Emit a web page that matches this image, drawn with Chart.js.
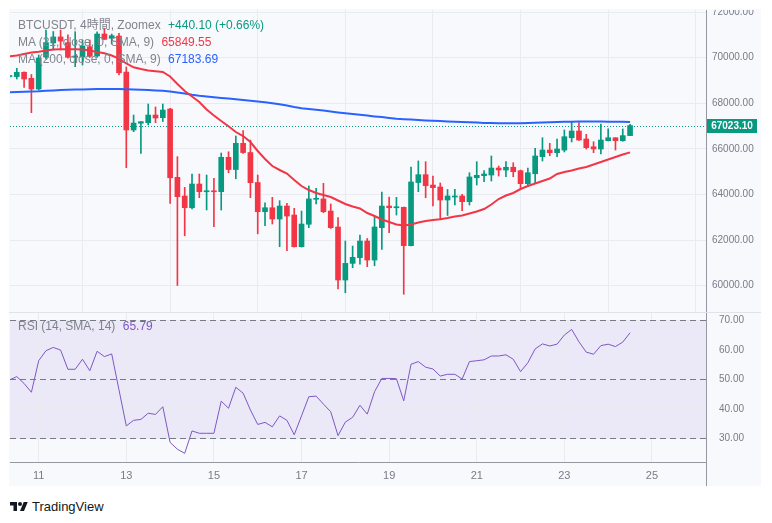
<!DOCTYPE html>
<html lang="ja">
<head>
<meta charset="utf-8">
<title>BTCUSDT 4時間</title>
<script src="https://cdn.jsdelivr.net/npm/chart.js@4.4.1/dist/chart.umd.min.js"></script>
<style>
    body { margin: 0; background: #ffffff; font-family: "Liberation Sans", Arial, "Noto Sans CJK JP", sans-serif; }
    #frame { position: absolute; left: 9px; top: 9px; width: 752px; height: 477px; background: #f8f9fd; }
    canvas { position: absolute; }
    #priceChart { left: 10px; top: 10px; }
    #rsiChart { left: 10px; top: 313px; }
    .line { position: absolute; }
    .legend { position: absolute; left: 18px; font-size: 12px; line-height: 17px; color: #80838c; white-space: nowrap; }
    .legend span { margin-left: 4px; }
    #logo { position: absolute; left: 10px; top: 499px; display: flex; align-items: center; color: #131722; font-size: 13px; }
    #logo svg { margin-right: 4px; }
</style>
</head>
<body>
<div id="frame"></div>
<canvas id="priceChart" width="751" height="302"></canvas>
<canvas id="rsiChart" width="751" height="173"></canvas>
<!-- separador entre paneles y final del eje de precios -->
<div class="line" style="left:9px; top:312px; width:752px; height:1px; background:#e0e3eb;"></div>
<div class="line" style="left:706px; top:462px; width:1px; height:24px; background:#9598a1;"></div>

<div class="legend" style="top:17px;">
    <div>BTCUSDT, 4時間, Zoomex <span id="chg" style="color:#089981"></span></div>
    <div>MA (21, close, 0, SMA, 9) <span id="ma21v" style="color:#f23645"></span></div>
    <div>MA (200, close, 0, SMA, 9) <span id="ma200v" style="color:#2962ff"></span></div>
</div>
<div class="legend" style="top:318px;">RSI (14, SMA, 14) <span id="rsiv" style="color:#7e57c2"></span></div>

<div id="logo">
    <svg width="18" height="14" viewBox="0 0 36 28"><path fill="#131722" d="M14 22H7V11H0V4h14v18zM28 22h-8l7.5-18h8L28 22z"/><circle fill="#131722" cx="20" cy="8" r="4"/></svg>
    <span>TradingView</span>
</div>

<script>
// Velas de 4 horas (índice 4 = día 11 a las 00:00)
const openP = [69175, 69170, 69360, 69095, 68625, 70030, 70645, 70910, 70660, 70020,
    70030, 70480, 70075, 71040, 70850, 70950, 69370, 66830, 67125, 67150,
    67485, 67370, 67750, 64755, 63935, 63420, 64460, 64120, 64145, 64125,
    65630, 65095, 66245, 65840, 64525, 63245, 63420, 62925, 63495, 63100,
    61710, 62695, 63790, 63805, 63275, 62575, 60250, 60980, 61230, 61960,
    61125, 62545, 63495, 63420, 63440, 61755, 64525, 64870, 64415, 64330,
    63760, 63890, 63935, 63685, 64735, 64825, 64855, 65160, 65075, 65195,
    65045, 64475, 64910, 65660, 65950, 65835, 65950, 66490, 66785, 66435,
    66095, 65995, 66360, 66490, 66360, 66583];
const highP = [69220, 69535, 69375, 69265, 70120, 71215, 71150, 71215, 71000, 71140,
    70775, 70775, 71140, 71290, 71040, 71070, 69590, 67485, 67195, 67970,
    67840, 67970, 67780, 65660, 64315, 64900, 64900, 64855, 64710, 65820,
    65875, 66565, 66805, 66390, 64855, 63640, 63875, 63730, 63615, 63395,
    63275, 64375, 64270, 64490, 63585, 62990, 61960, 61740, 62225, 62070,
    63025, 64110, 63890, 63875, 63450, 65205, 65470, 65440, 64810, 64505,
    64220, 64230, 64010, 64955, 65440, 65045, 65690, 65250, 65440, 65395,
    65075, 65160, 66025, 66490, 66245, 66435, 66830, 67195, 67150, 66640,
    66315, 67090, 66875, 66490, 66875, 67080];
const lowP = [69130, 69065, 68695, 67590, 68585, 69945, 70340, 70340, 69975, 69605,
    69680, 70020, 70020, 70800, 70600, 69240, 65175, 66755, 65800, 67050,
    67150, 67200, 63605, 60010, 62190, 63365, 63860, 63320, 62590, 63320,
    64955, 64690, 65805, 63860, 62275, 62630, 62705, 61710, 61535, 61695,
    61695, 62545, 63585, 63200, 62510, 59855, 59695, 60790, 60950, 60835,
    60875, 61595, 62325, 63100, 59625, 61740, 64125, 63860, 63495, 62910,
    63080, 63540, 63290, 63540, 64415, 64560, 64590, 64810, 64780, 64780,
    64230, 64340, 64520, 65470, 65700, 65660, 65865, 66305, 66370, 65995,
    65835, 65775, 66345, 65950, 66335, 66580];
const closeP = [69200, 69360, 69065, 68625, 69985, 70665, 70910, 70730, 70020, 70075,
    70515, 70060, 71040, 70805, 70965, 69340, 66830, 67135, 67195, 67485,
    67355, 67705, 64735, 63905, 63420, 64460, 64125, 64145, 64120, 65630,
    65095, 66245, 65840, 64520, 63245, 63420, 62925, 63495, 63055, 61710,
    62705, 63805, 63815, 63245, 62545, 60250, 60980, 61245, 61960, 61125,
    62575, 63495, 63420, 63445, 61755, 64550, 64870, 64385, 64300, 63760,
    63935, 63910, 63685, 64770, 64840, 64900, 65160, 65075, 65195, 65000,
    64475, 64955, 65690, 65950, 65835, 65995, 66535, 66785, 66390, 66055,
    65995, 66390, 66490, 66360, 66583, 67023.10];

// Medias móviles
const ma21 = [70061, 70096, 70162, 70228, 70263, 70316, 70355, 70368, 70373, 70373,
    70364, 70316, 70250, 70193, 70096, 69960, 69746, 69579, 69504, 69443,
    69408, 69373, 69175, 68846, 68539, 68298, 68057, 67728, 67465, 67224,
    66996, 66741, 66566, 66303, 65908, 65557, 65250, 65075, 64921, 64636,
    64373, 64197, 64066, 63978, 63890, 63737, 63583, 63474, 63386, 63189,
    63057, 62903, 62794, 62684, 62640, 62684, 62772, 62838, 62882, 62912,
    62969, 63035, 63079, 63167, 63254, 63364, 63561, 63803, 63956, 64066,
    64241, 64373, 64482, 64592, 64702, 64899, 64987, 65053, 65140, 65206,
    65316, 65425, 65535, 65645, 65754, 65849.55];
const ma200 = [68482, 68496, 68504, 68518, 68526, 68548, 68566, 68579, 68592, 68601,
    68610, 68614, 68623, 68627, 68627, 68623, 68618, 68610, 68596, 68583,
    68566, 68548, 68518, 68478, 68430, 68373, 68329, 68294, 68263, 68237,
    68210, 68180, 68145, 68110, 68079, 68044, 68004, 67956, 67903, 67838,
    67785, 67750, 67715, 67680, 67640, 67601, 67566, 67531, 67496, 67461,
    67425, 67395, 67355, 67320, 67303, 67285, 67268, 67250, 67237, 67224,
    67206, 67193, 67180, 67167, 67153, 67140, 67132, 67127, 67123, 67123,
    67127, 67136, 67145, 67158, 67171, 67180, 67189, 67193, 67197, 67197,
    67197, 67197, 67193, 67193, 67189, 67183.69];

// RSI (14)
const rsi = [49.8, 50.9, 48.6, 45.6, 56.3, 59.7, 60.8, 59.9, 53.4, 53.4,
    56.8, 52.9, 59.5, 57.7, 58.6, 46.4, 34.2, 36.1, 36.4, 38.5,
    38.1, 40.7, 28.6, 26.3, 24.9, 32.5, 31.7, 31.7, 31.7, 42.6,
    40.2, 47.3, 45.3, 39.6, 34.7, 35.4, 33.9, 37.6, 36.1, 31.2,
    37.6, 44.1, 44.3, 41.6, 39.0, 30.9, 35.5, 37.1, 41.2, 38.2,
    45.8, 50.3, 50.3, 50.2, 42.7, 55.1, 56.0, 54.1, 53.5, 51.1,
    51.7, 51.7, 50.1, 56.0, 56.3, 56.6, 57.9, 57.9, 58.3, 56.8,
    52.6, 55.6, 60.3, 62.0, 61.3, 61.9, 65.0, 66.9, 62.7, 59.2,
    58.5, 61.4, 61.9, 61.1, 62.6, 65.79];

// Etiquetas de fecha (índice de vela de cada día) y marcas de los ejes
const dateIdx = [4, 16, 28, 40, 52, 64, 76, 88];
const dateLabels = ['11', '13', '15', '17', '19', '21', '23', '25'];
const priceTicks = [60000, 62000, 64000, 66000, 68000, 70000, 72000];
const rsiTicks = [30, 40, 50, 60, 70];
const rsiLevels = [30, 50, 70];

const UP = '#089981';
const DOWN = '#f23645';
const GRID = '#e9ebf0';
const TEXT = '#787b86';
const AXIS = '#9598a1';
const X_MIN = 0.07, X_MAX = 95.4;

Chart.defaults.font.family = '"Liberation Sans", Arial, sans-serif';
Chart.defaults.color = TEXT;

const lastIdx = closeP.length - 1;
const lastClose = closeP[lastIdx];
const change = lastClose - closeP[lastIdx - 1];

// Textos de la leyenda a partir de los datos
document.getElementById('chg').textContent = '+' + change.toFixed(2) + ' (+' + (change / closeP[lastIdx - 1] * 100).toFixed(2) + '%)';
document.getElementById('ma21v').textContent = ma21[lastIdx].toFixed(2);
document.getElementById('ma200v').textContent = ma200[lastIdx].toFixed(2);
document.getElementById('rsiv').textContent = rsi[lastIdx].toFixed(2);

const candleColors = closeP.map((c, i) => c >= openP[i] ? UP : DOWN);

// Línea punteada del último precio y etiqueta en el eje
const lastPricePlugin = {
    id: 'lastPrice',
    beforeDatasetsDraw(chart) {
        const ctx = chart.ctx;
        const area = chart.chartArea;
        const y = Math.round(chart.scales.y.getPixelForValue(lastClose)) + 0.5;
        ctx.save();
        ctx.strokeStyle = UP;
        ctx.lineWidth = 1;
        ctx.setLineDash([1, 2]);
        ctx.beginPath();
        ctx.moveTo(area.left, y);
        ctx.lineTo(area.right, y);
        ctx.stroke();
        ctx.restore();
    },
    afterDraw(chart) {
        const ctx = chart.ctx;
        const area = chart.chartArea;
        const y = chart.scales.y.getPixelForValue(lastClose);
        ctx.save();
        ctx.fillStyle = UP;
        ctx.fillRect(area.right + 1, Math.round(y) - 7, 50, 14);
        ctx.fillStyle = '#ffffff';
        ctx.font = 'bold 10px "Liberation Sans", Arial, sans-serif';
        ctx.textAlign = 'center';
        ctx.textBaseline = 'middle';
        ctx.fillText(lastClose.toFixed(2), area.right + 26, Math.round(y) + 0.5);
        ctx.restore();
    }
};

// Banda 30-70 y líneas discontinuas del RSI
const rsiBandPlugin = {
    id: 'rsiBand',
    beforeDraw(chart) {
        const ctx = chart.ctx;
        const area = chart.chartArea;
        const yS = chart.scales.y;
        const top = yS.getPixelForValue(70);
        const bottom = yS.getPixelForValue(30);
        ctx.save();
        ctx.fillStyle = 'rgba(126, 87, 194, 0.1)';
        ctx.fillRect(area.left, top, area.right - area.left, bottom - top);
        ctx.restore();
    },
    beforeDatasetsDraw(chart) {
        const ctx = chart.ctx;
        const area = chart.chartArea;
        ctx.save();
        ctx.strokeStyle = TEXT;
        ctx.lineWidth = 1;
        ctx.setLineDash([6, 4]);
        rsiLevels.forEach(level => {
            const y = Math.round(chart.scales.y.getPixelForValue(level)) + 0.5;
            ctx.beginPath();
            ctx.moveTo(area.left, y);
            ctx.lineTo(area.right, y);
            ctx.stroke();
        });
        ctx.restore();
    }
};

function fixRightAxis(width) {
    return function (scale) {
        scale.width = width;
        scale.paddingTop = 0;
        scale.paddingBottom = 0;
    };
}

// Gráfico de velas con las dos medias
new Chart(document.getElementById('priceChart'), {
    type: 'bar',
    data: {
        datasets: [
            {
                type: 'line',
                data: ma21.map((v, i) => ({ x: i, y: v })),
                borderColor: '#f23645',
                borderWidth: 2,
                pointRadius: 0,
                order: 0
            },
            {
                type: 'line',
                data: ma200.map((v, i) => ({ x: i, y: v })),
                borderColor: '#2962ff',
                borderWidth: 2,
                pointRadius: 0,
                order: 0
            },
            {
                data: lowP.map((v, i) => ({ x: i, y: [v, highP[i]] })),
                backgroundColor: candleColors,
                barThickness: 1,
                grouped: false,
                order: 2
            },
            {
                data: openP.map((v, i) => ({ x: i, y: [v, closeP[i]] })),
                backgroundColor: candleColors,
                barThickness: 5,
                minBarLength: 1,
                grouped: false,
                order: 1
            }
        ]
    },
    options: {
        responsive: false,
        animation: false,
        events: [],
        layout: { padding: 0 },
        plugins: { legend: { display: false }, tooltip: { enabled: false } },
        scales: {
            x: {
                type: 'linear',
                min: X_MIN,
                max: X_MAX,
                offset: false,
                grid: { color: GRID, drawTicks: false },
                border: { display: false },
                ticks: { display: false },
                afterBuildTicks: scale => { scale.ticks = dateIdx.map(v => ({ value: v })); },
                afterFit: scale => { scale.height = 0; scale.paddingLeft = 0; scale.paddingRight = 0; }
            },
            y: {
                position: 'right',
                min: 58847,
                max: 72092,
                grid: { color: GRID, drawTicks: false },
                border: { display: true, color: AXIS },
                ticks: {
                    font: { size: 10 },
                    color: TEXT,
                    padding: 6,
                    crossAlign: 'center',
                    callback: v => v.toFixed(2)
                },
                afterBuildTicks: scale => { scale.ticks = priceTicks.map(v => ({ value: v })); },
                afterFit: fixRightAxis(55)
            }
        }
    },
    plugins: [lastPricePlugin]
});

// Panel del RSI con el eje de fechas
new Chart(document.getElementById('rsiChart'), {
    type: 'line',
    data: {
        datasets: [{
            data: rsi.map((v, i) => ({ x: i, y: v })),
            borderColor: '#7e57c2',
            borderWidth: 1,
            pointRadius: 0
        }]
    },
    options: {
        responsive: false,
        animation: false,
        events: [],
        layout: { padding: 0 },
        plugins: { legend: { display: false }, tooltip: { enabled: false } },
        scales: {
            x: {
                type: 'linear',
                min: X_MIN,
                max: X_MAX,
                grid: { color: GRID, drawTicks: false },
                border: { display: true, color: AXIS },
                ticks: {
                    font: { size: 11 },
                    color: TEXT,
                    padding: 7,
                    maxRotation: 0,
                    autoSkip: false,
                    callback: v => dateLabels[dateIdx.indexOf(v)]
                },
                afterBuildTicks: scale => { scale.ticks = dateIdx.map(v => ({ value: v })); },
                afterFit: scale => { scale.height = 24; scale.paddingLeft = 0; scale.paddingRight = 0; }
            },
            y: {
                position: 'right',
                min: 21.97,
                max: 72.47,
                grid: { color: GRID, drawTicks: false },
                border: { display: true, color: AXIS },
                ticks: {
                    font: { size: 10 },
                    color: TEXT,
                    padding: 13,
                    crossAlign: 'center',
                    callback: v => v.toFixed(2)
                },
                afterBuildTicks: scale => { scale.ticks = rsiTicks.map(v => ({ value: v })); },
                afterFit: fixRightAxis(55)
            }
        }
    },
    plugins: [rsiBandPlugin]
});
</script>
</body>
</html>
